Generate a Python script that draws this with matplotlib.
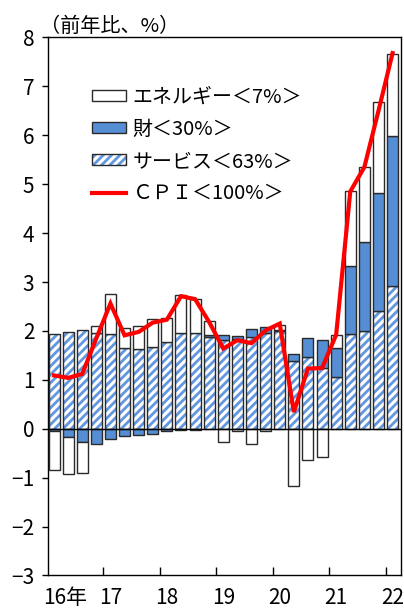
import numpy as np
import matplotlib
matplotlib.use("Agg")
import matplotlib.pyplot as plt
from matplotlib.patches import Patch
from matplotlib.lines import Line2D

plt.rcParams["font.family"] = ["Noto Sans CJK JP", "DejaVu Sans"]
plt.rcParams["hatch.linewidth"] = 2.0

# quarterly, 2016Q1 .. 2022Q1 (percentage-point contributions)
year_labels = ["16年", "17", "18", "19", "20", "21", "22"]
service = [1.94, 1.98, 2.01, 1.96, 1.93, 1.66, 1.63, 1.68, 1.77, 1.96, 1.96, 1.87, 1.81,
           1.84, 1.87, 1.96, 1.99, 1.38, 1.47, 1.24, 1.06, 1.93, 1.99, 2.40, 2.92]
goods = [-0.05, -0.16, -0.28, -0.31, -0.21, -0.15, -0.13, -0.10, -0.05, -0.02, -0.02, 0.04, 0.10,
         0.05, 0.17, 0.12, 0.03, 0.15, 0.38, 0.57, 0.60, 1.39, 1.83, 2.41, 3.06]
energy = [-0.79, -0.76, -0.62, 0.14, 0.83, 0.39, 0.47, 0.56, 0.49, 0.77, 0.69, 0.30, -0.28,
          -0.05, -0.31, -0.05, 0.11, -1.17, -0.63, -0.57, 0.26, 1.54, 1.53, 1.87, 1.69]
cpi = [1.09, 1.04, 1.12, 1.85, 2.56, 1.91, 1.98, 2.17, 2.23, 2.71, 2.65, 2.18, 1.64,
       1.81, 1.75, 2.01, 2.15, 0.34, 1.23, 1.24, 1.92, 4.85, 5.35, 6.50, 7.68]
labels = ["エネルギー＜7%＞", "財＜30%＞", "サービス＜63%＞", "ＣＰＩ＜100%＞"]

BLUE = "#558ed5"
HATCH = "#6197e0"
EDGE = "#2a2a2a"

s = np.array(service); g = np.array(goods); e = np.array(energy)
x = np.arange(len(s))
pos = s + np.clip(g, 0, None)
neg = np.clip(g, None, 0)
g_bot = np.where(g >= 0, s, 0)
e_bot = np.where(e >= 0, pos, neg)

fig = plt.figure(figsize=(4.04, 6.10), dpi=100)
ax = fig.add_axes([0.118, 0.0566, 0.874, 0.882])
w = 0.78
ax.bar(x, s, w, color="white", edgecolor=HATCH, hatch="////", linewidth=0, zorder=2)
ax.bar(x, s, w, facecolor="none", edgecolor=EDGE, linewidth=1.0, zorder=3)
ax.bar(x, g, w, bottom=g_bot, color=BLUE, edgecolor=EDGE, linewidth=1.0, zorder=3)
ax.bar(x, e, w, bottom=e_bot, color="white", edgecolor=EDGE, linewidth=1.0, zorder=3)
ax.axhline(0, color="black", lw=1.0, zorder=4)
ax.plot(x, cpi, color="#ff0000", lw=3.0, zorder=5, solid_joinstyle="miter")

ax.set_xlim(-0.45, 24.58)
ax.set_ylim(-3, 8)
ax.set_yticks(range(-3, 9))
ax.set_yticklabels([str(v).replace("-", "−") for v in range(-3, 9)])
ax.tick_params(axis="y", direction="out", length=4.5, width=1, pad=5, labelsize=15)
ax.set_xticks(np.arange(3.5, 24, 4))
ax.set_xticklabels([])
ax.tick_params(axis="x", direction="in", length=6, width=1)
for sp in ax.spines.values():
    sp.set_linewidth(1.0)

for i, lab in enumerate(year_labels):
    if i == 0:
        ax.text(-0.75, -0.022, lab, transform=ax.get_xaxis_transform(),
                ha="left", va="top", fontsize=15)
    else:
        ax.text(4 * i, -0.022, lab, transform=ax.get_xaxis_transform(),
                ha="center", va="top", fontsize=15)

fig.text(0.098, 0.957, "（前年比、%）", ha="left", va="center", fontsize=14.5)

handles = [Patch(facecolor="white", edgecolor=EDGE, linewidth=1.0),
           Patch(facecolor=BLUE, edgecolor=EDGE, linewidth=1.0),
           (Patch(facecolor="white", edgecolor=HATCH, hatch="////", linewidth=0),
            Patch(facecolor="none", edgecolor=EDGE, linewidth=1.0)),
           Line2D([], [], color="#ff0000", lw=3.0)]
ax.legend(handles, labels, loc="upper left", bbox_to_anchor=(0.104, 0.924), frameon=False,
          fontsize=14.4, handlelength=1.7, handleheight=0.5, handletextpad=0.3,
          labelspacing=0.56, borderaxespad=0)

fig.savefig("out.png", dpi=100)
